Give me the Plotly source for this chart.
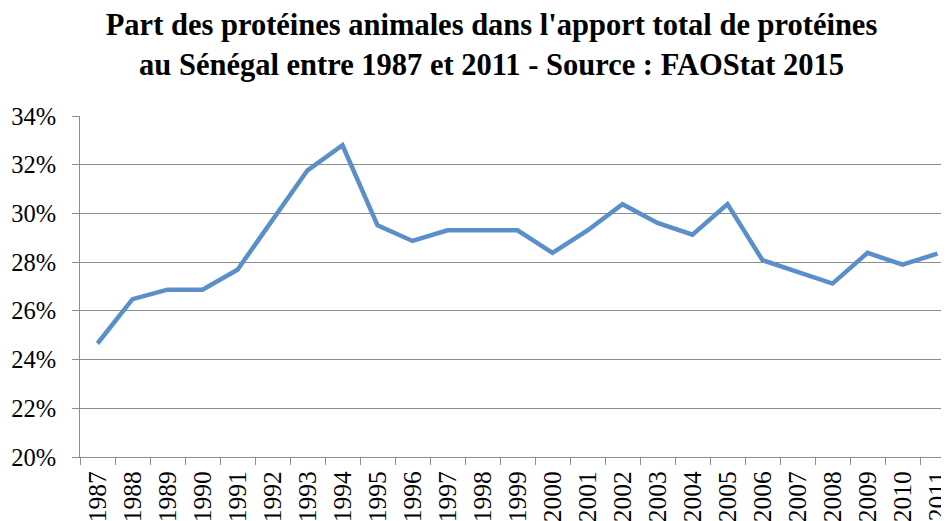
import plotly.graph_objects as go

years = [str(y) for y in range(1987, 2012)]
share_pct = [24.66, 26.48, 26.87, 26.87, 27.69, 29.75, 31.77, 32.8, 29.51, 28.87,
             29.31, 29.31, 29.31, 28.38, 29.3, 30.38, 29.61, 29.13, 30.38, 28.08,
             27.6, 27.12, 28.38, 27.9, 28.35]
y_ticks = [20, 22, 24, 26, 28, 30, 32, 34]
y_tick_labels = [f"{v}%" for v in y_ticks]

title_text = ("<b>Part des protéines animales dans l'apport total de protéines<br>"
              "au Sénégal entre 1987 et 2011 - Source : FAOStat 2015</b>")

fig = go.Figure()
fig.add_trace(go.Scatter(
    x=years, y=share_pct, mode="lines",
    line=dict(color="#5B8FC9", width=4.5),
    hoverinfo="x+y",
))

font_family = "Liberation Serif, Times New Roman, serif"

W, H = 949, 521
ML, MT, MB = 72, 108, 72
cat_px = 35.0
x_end = -0.5 + (W - ML) / cat_px

fig.update_layout(
    width=W, height=H,
    paper_bgcolor="white", plot_bgcolor="white",
    margin=dict(l=ML, r=0, t=MT, b=MB, autoexpand=False),
    showlegend=False,
    font=dict(family=font_family, color="black"),
    title=dict(text=title_text, x=0.5095, xanchor="center", xref="container",
               y=1 - 27 / H, yanchor="middle", yref="container",
               font=dict(family=font_family, size=30.5, color="black")),
    xaxis=dict(
        type="category", range=[-0.5, x_end], automargin=False,
        tickson="boundaries", ticks="outside", ticklen=7, tickcolor="#8c8c8c",
        showgrid=False, showline=True, linecolor="#8c8c8c", linewidth=1,
        tickangle=-90, tickfont=dict(family=font_family, size=25.5, color="black"),
        zeroline=False, ticklabelstandoff=3,
    ),
    yaxis=dict(
        range=[20, 34], tickvals=y_ticks, ticktext=y_tick_labels, automargin=False,
        showgrid=True, gridcolor="#8c8c8c", gridwidth=1,
        showline=True, linecolor="#8c8c8c", linewidth=1,
        ticks="outside", ticklen=7, tickcolor="#8c8c8c",
        tickfont=dict(family=font_family, size=24.5, color="black"),
        zeroline=False, ticklabelstandoff=11,
    ),
)

fig.write_html("out.html")
